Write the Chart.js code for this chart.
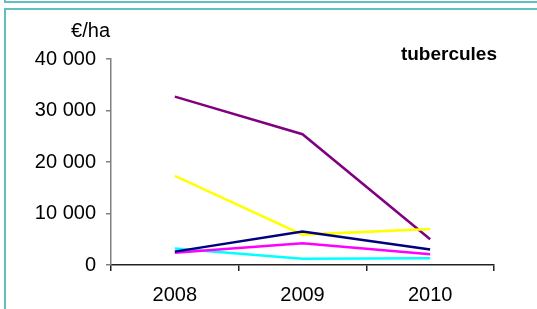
<!DOCTYPE html>
<html>
<head>
<meta charset="utf-8">
<script src="https://cdn.jsdelivr.net/npm/chart.js@4/dist/chart.umd.min.js"></script>
<style>
  html, body { margin: 0; padding: 0; background: #fff; }
  body { width: 537px; height: 309px; position: relative; overflow: hidden; }
  #box1 { position: absolute; left: 4px; top: -10px; width: 600px; height: 11px;
          border-left: 2px solid #62bfc0; border-bottom: 2px solid #62bfc0; }
  #box2 { position: absolute; left: 4px; top: 8px; width: 600px; height: 400px;
          border-left: 2px solid #62bfc0; border-top: 2px solid #62bfc0; }
  #wrap { position: absolute; left: 0; top: 0; width: 537px; height: 309px; }
</style>
</head>
<body>
<div id="box1"></div>
<div id="box2"></div>
<div id="wrap"><canvas id="c" width="537" height="309"></canvas></div>
<script>
const categories = ["2008", "2009", "2010"];
const unitLabel = "€/ha";
const chartTitle = "tubercules";
const navySeries = [2600, 6500, 3000];
const magentaSeries = [2400, 4200, 2100];
const cyanSeries = [3200, 1200, 1300];
const yellowSeries = [17300, 5900, 7000];
const purpleSeries = [32700, 25400, 5000];
const yTicks = [0, 10000, 20000, 30000, 40000];

function fmt(v) { return String(v).replace(/\B(?=(\d{3})+(?!\d))/g, " "); }

const FONT = "'Liberation Sans', Arial, sans-serif";

const textPlugin = {
  id: 'texts',
  afterDraw(chart) {
    const ctx = chart.ctx;
    const a = chart.chartArea;
    ctx.save();
    ctx.fillStyle = '#000';
    ctx.textBaseline = 'alphabetic';
    ctx.font = "20px " + FONT;
    ctx.textAlign = 'right';
    ctx.fillText(unitLabel, a.left - 1, 37);
    ctx.font = "bold 19px " + FONT;
    ctx.textAlign = 'right';
    ctx.fillText(chartTitle, a.right + 3, 60);
    ctx.restore();
  }
};

function ds(label, data, color) {
  return { label, data, borderColor: color, backgroundColor: color,
           borderWidth: 2.5, pointRadius: 0, tension: 0, fill: false };
}

new Chart(document.getElementById('c'), {
  type: 'line',
  data: {
    labels: categories,
    datasets: [
      ds('a', navySeries, '#000080'),
      ds('b', magentaSeries, '#ff00ff'),
      ds('c', yellowSeries, '#ffff00'),
      ds('d', purpleSeries, '#800080'),
      ds('e', cyanSeries, '#00ffff')
    ]
  },
  options: {
    responsive: false,
    animation: false,
    devicePixelRatio: 1,
    layout: { padding: { left: 0, right: 43, top: 59, bottom: 0 } },
    plugins: { legend: { display: false }, tooltip: { enabled: false }, title: { display: false } },
    scales: {
      x: {
        type: 'category',
        offset: true,
        grid: { offset: true, drawOnChartArea: false, drawTicks: true, tickLength: 6, color: '#222', lineWidth: 1.5 },
        border: { display: true, color: '#222', width: 1.5 },
        ticks: { color: '#000', font: { family: FONT, size: 20 }, padding: 12, maxRotation: 0 },
        afterFit(s) { s.height = 44; }
      },
      y: {
        min: 0, max: 40000,
        afterBuildTicks(s) { s.ticks = yTicks.map(v => ({ value: v })); },
        grid: { drawOnChartArea: false, drawTicks: true, tickLength: 5, color: '#808080', lineWidth: 1.5 },
        border: { display: true, color: '#808080', width: 1.5 },
        ticks: { color: '#000', font: { family: FONT, size: 20 }, padding: 10, callback: v => fmt(v) },
        afterFit(s) { s.width = 111; }
      }
    }
  },
  plugins: [textPlugin]
});
</script>
</body>
</html>
